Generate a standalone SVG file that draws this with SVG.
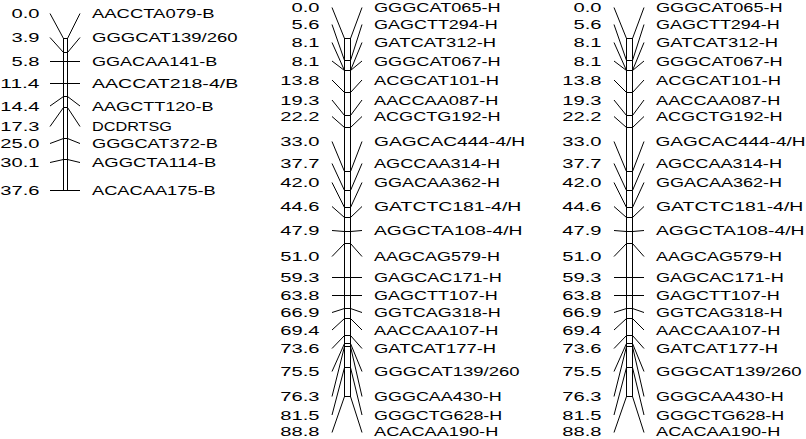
<svg xmlns="http://www.w3.org/2000/svg" width="806" height="439" viewBox="0 0 806 439">
<style>
text{font-family:"Liberation Sans","DejaVu Sans",sans-serif;font-size:13px;fill:#000}
.ln{fill:none;stroke:#000;stroke-width:1}
.bar{fill:#fff;stroke:#000;stroke-width:1}
</style>
<rect width="806" height="439" fill="#fff"/>
<g id="bars">
<rect class="bar" x="63.5" y="38.5" width="4" height="152"/>
<rect class="bar" x="344.5" y="38.5" width="6" height="358"/>
<rect class="bar" x="626.5" y="38.5" width="6" height="358"/>
</g>
<g id="connectors" class="ln">
<polyline points="50,13.5 63.5,38.5 67.5,38.5 80,13.5"/>
<polyline points="50,37.5 63.5,52.5 67.5,52.5 80,37.5"/>
<polyline points="50,61.5 63.5,61.5 67.5,61.5 80,61.5"/>
<polyline points="50,83.5 63.5,83.5 67.5,83.5 80,83.5"/>
<polyline points="50,106 63.5,96.5 67.5,96.5 80,106"/>
<polyline points="50,126.5 63.5,107.5 67.5,107.5 80,126.5"/>
<polyline points="50,143.5 63.5,138.5 67.5,138.5 80,143.5"/>
<polyline points="50,162.5 63.5,159.5 67.5,159.5 80,162.5"/>
<polyline points="50,190.5 63.5,190.5 67.5,190.5 80,190.5"/>

<polyline points="332,7.5 344.5,38.5 350.5,38.5 362,7.5"/>
<polyline points="332,24.5 344.5,60.5 350.5,60.5 362,24.5"/>
<polyline points="332,42.5 344.5,70.5 350.5,70.5 362,42.5"/>
<polyline points="332,61 344.5,70.5 350.5,70.5 362,61"/>
<polyline points="332,80 344.5,92.5 350.5,92.5 362,80"/>
<polyline points="332,100 344.5,115.5 350.5,115.5 362,100"/>
<polyline points="332,116.5 344.5,127.5 350.5,127.5 362,116.5"/>
<polyline points="332,141.5 344.5,171.5 350.5,171.5 362,141.5"/>
<polyline points="332,163.5 344.5,190.5 350.5,190.5 362,163.5"/>
<polyline points="332,182.5 344.5,207.5 350.5,207.5 362,182.5"/>
<polyline points="332,206.5 344.5,217.5 350.5,217.5 362,206.5"/>
<polyline points="332,230.5 344.5,231.5 350.5,231.5 362,230.5"/>
<polyline points="332,256.5 344.5,243.5 350.5,243.5 362,256.5"/>
<polyline points="332,277.5 344.5,277.5 350.5,277.5 362,277.5"/>
<polyline points="332,295.5 344.5,295.5 350.5,295.5 362,295.5"/>
<polyline points="332,312.5 344.5,308.5 350.5,308.5 362,312.5"/>
<polyline points="332,330 344.5,318.5 350.5,318.5 362,330"/>
<polyline points="332,348.5 344.5,335.5 350.5,335.5 362,348.5"/>
<polyline points="332,371.5 344.5,343.5 350.5,343.5 362,371.5"/>
<polyline points="332,396.5 344.5,346.5 350.5,346.5 362,396.5"/>
<polyline points="332,415 344.5,367.5 350.5,367.5 362,415"/>
<polyline points="332,432.5 344.5,396.5 350.5,396.5 362,432.5"/>

<polyline points="614,7.5 626.5,38.5 632.5,38.5 644,7.5"/>
<polyline points="614,24.5 626.5,60.5 632.5,60.5 644,24.5"/>
<polyline points="614,42.5 626.5,70.5 632.5,70.5 644,42.5"/>
<polyline points="614,61 626.5,70.5 632.5,70.5 644,61"/>
<polyline points="614,80 626.5,92.5 632.5,92.5 644,80"/>
<polyline points="614,100 626.5,115.5 632.5,115.5 644,100"/>
<polyline points="614,116.5 626.5,127.5 632.5,127.5 644,116.5"/>
<polyline points="614,141.5 626.5,171.5 632.5,171.5 644,141.5"/>
<polyline points="614,163.5 626.5,190.5 632.5,190.5 644,163.5"/>
<polyline points="614,182.5 626.5,207.5 632.5,207.5 644,182.5"/>
<polyline points="614,206.5 626.5,217.5 632.5,217.5 644,206.5"/>
<polyline points="614,230.5 626.5,231.5 632.5,231.5 644,230.5"/>
<polyline points="614,256.5 626.5,243.5 632.5,243.5 644,256.5"/>
<polyline points="614,277.5 626.5,277.5 632.5,277.5 644,277.5"/>
<polyline points="614,295.5 626.5,295.5 632.5,295.5 644,295.5"/>
<polyline points="614,312.5 626.5,308.5 632.5,308.5 644,312.5"/>
<polyline points="614,330 626.5,318.5 632.5,318.5 644,330"/>
<polyline points="614,348.5 626.5,335.5 632.5,335.5 644,348.5"/>
<polyline points="614,371.5 626.5,343.5 632.5,343.5 644,371.5"/>
<polyline points="614,396.5 626.5,346.5 632.5,346.5 644,396.5"/>
<polyline points="614,415 626.5,367.5 632.5,367.5 644,415"/>
<polyline points="614,432.5 626.5,396.5 632.5,396.5 644,432.5"/>
</g>

<g id="group1">
<g id="g1-m1"><text x="11.5" y="18" textLength="28" lengthAdjust="spacingAndGlyphs">0.0</text><text x="92" y="18" textLength="122.6" lengthAdjust="spacingAndGlyphs">AACCTA079-B</text></g>
<g id="g1-m2"><text x="11.5" y="42" textLength="28" lengthAdjust="spacingAndGlyphs">3.9</text><text x="92" y="42" textLength="145.6" lengthAdjust="spacingAndGlyphs">GGGCAT139/260</text></g>
<g id="g1-m3"><text x="11.5" y="65.5" textLength="28" lengthAdjust="spacingAndGlyphs">5.8</text><text x="92" y="65.5" textLength="125.4" lengthAdjust="spacingAndGlyphs">GGACAA141-B</text></g>
<g id="g1-m4"><text x="0.3" y="87.5" textLength="39.2" lengthAdjust="spacingAndGlyphs">11.4</text><text x="92" y="87.5" textLength="146.2" lengthAdjust="spacingAndGlyphs">AACCAT218-4/B</text></g>
<g id="g1-m5"><text x="0.3" y="110.5" textLength="39.2" lengthAdjust="spacingAndGlyphs">14.4</text><text x="92" y="110.5" textLength="121.5" lengthAdjust="spacingAndGlyphs">AAGCTT120-B</text></g>
<g id="g1-m6"><text x="0.3" y="131" textLength="39.2" lengthAdjust="spacingAndGlyphs">17.3</text><text x="92" y="131" textLength="80" lengthAdjust="spacingAndGlyphs">DCDRTSG</text></g>
<g id="g1-m7"><text x="0.3" y="148" textLength="39.2" lengthAdjust="spacingAndGlyphs">25.0</text><text x="92" y="148" textLength="126" lengthAdjust="spacingAndGlyphs">GGGCAT372-B</text></g>
<g id="g1-m8"><text x="0.3" y="167" textLength="39.2" lengthAdjust="spacingAndGlyphs">30.1</text><text x="92" y="167" textLength="124.3" lengthAdjust="spacingAndGlyphs">AGGCTA114-B</text></g>
<g id="g1-m9"><text x="0.3" y="195" textLength="39.2" lengthAdjust="spacingAndGlyphs">37.6</text><text x="92" y="195" textLength="123.8" lengthAdjust="spacingAndGlyphs">ACACAA175-B</text></g>
</g>

<g id="group2">
<g id="g2-m1"><text x="291.5" y="12" textLength="28" lengthAdjust="spacingAndGlyphs">0.0</text><text x="374" y="12" textLength="126.6" lengthAdjust="spacingAndGlyphs">GGGCAT065-H</text></g>
<g id="g2-m2"><text x="291.5" y="29" textLength="28" lengthAdjust="spacingAndGlyphs">5.6</text><text x="374" y="29" textLength="123.8" lengthAdjust="spacingAndGlyphs">GAGCTT294-H</text></g>
<g id="g2-m3"><text x="291.5" y="47" textLength="28" lengthAdjust="spacingAndGlyphs">8.1</text><text x="374" y="47" textLength="122.1" lengthAdjust="spacingAndGlyphs">GATCAT312-H</text></g>
<g id="g2-m4"><text x="291.5" y="65.5" textLength="28" lengthAdjust="spacingAndGlyphs">8.1</text><text x="374" y="65.5" textLength="126.6" lengthAdjust="spacingAndGlyphs">GGGCAT067-H</text></g>
<g id="g2-m5"><text x="280.3" y="84.5" textLength="39.2" lengthAdjust="spacingAndGlyphs">13.8</text><text x="374" y="84.5" textLength="124.9" lengthAdjust="spacingAndGlyphs">ACGCAT101-H</text></g>
<g id="g2-m6"><text x="280.3" y="104.5" textLength="39.2" lengthAdjust="spacingAndGlyphs">19.3</text><text x="374" y="104.5" textLength="124.3" lengthAdjust="spacingAndGlyphs">AACCAA087-H</text></g>
<g id="g2-m7"><text x="280.3" y="121" textLength="39.2" lengthAdjust="spacingAndGlyphs">22.2</text><text x="374" y="121" textLength="126.6" lengthAdjust="spacingAndGlyphs">ACGCTG192-H</text></g>
<g id="g2-m8"><text x="280.3" y="146" textLength="39.2" lengthAdjust="spacingAndGlyphs">33.0</text><text x="374" y="146" textLength="151.2" lengthAdjust="spacingAndGlyphs">GAGCAC444-4/H</text></g>
<g id="g2-m9"><text x="280.3" y="168" textLength="39.2" lengthAdjust="spacingAndGlyphs">37.7</text><text x="374" y="168" textLength="126" lengthAdjust="spacingAndGlyphs">AGCCAA314-H</text></g>
<g id="g2-m10"><text x="280.3" y="187" textLength="39.2" lengthAdjust="spacingAndGlyphs">42.0</text><text x="374" y="187" textLength="126" lengthAdjust="spacingAndGlyphs">GGACAA362-H</text></g>
<g id="g2-m11"><text x="280.3" y="211" textLength="39.2" lengthAdjust="spacingAndGlyphs">44.6</text><text x="374" y="211" textLength="147.3" lengthAdjust="spacingAndGlyphs">GATCTC181-4/H</text></g>
<g id="g2-m12"><text x="280.3" y="235" textLength="39.2" lengthAdjust="spacingAndGlyphs">47.9</text><text x="374" y="235" textLength="148.4" lengthAdjust="spacingAndGlyphs">AGGCTA108-4/H</text></g>
<g id="g2-m13"><text x="280.3" y="261" textLength="39.2" lengthAdjust="spacingAndGlyphs">51.0</text><text x="374" y="261" textLength="126" lengthAdjust="spacingAndGlyphs">AAGCAG579-H</text></g>
<g id="g2-m14"><text x="280.3" y="281.5" textLength="39.2" lengthAdjust="spacingAndGlyphs">59.3</text><text x="374" y="281.5" textLength="127.7" lengthAdjust="spacingAndGlyphs">GAGCAC171-H</text></g>
<g id="g2-m15"><text x="280.3" y="300" textLength="39.2" lengthAdjust="spacingAndGlyphs">63.8</text><text x="374" y="300" textLength="123.8" lengthAdjust="spacingAndGlyphs">GAGCTT107-H</text></g>
<g id="g2-m16"><text x="280.3" y="317" textLength="39.2" lengthAdjust="spacingAndGlyphs">66.9</text><text x="374" y="317" textLength="126.6" lengthAdjust="spacingAndGlyphs">GGTCAG318-H</text></g>
<g id="g2-m17"><text x="280.3" y="334.5" textLength="39.2" lengthAdjust="spacingAndGlyphs">69.4</text><text x="374" y="334.5" textLength="124.3" lengthAdjust="spacingAndGlyphs">AACCAA107-H</text></g>
<g id="g2-m18"><text x="280.3" y="353" textLength="39.2" lengthAdjust="spacingAndGlyphs">73.6</text><text x="374" y="353" textLength="122.1" lengthAdjust="spacingAndGlyphs">GATCAT177-H</text></g>
<g id="g2-m19"><text x="280.3" y="376" textLength="39.2" lengthAdjust="spacingAndGlyphs">75.5</text><text x="374" y="376" textLength="145.6" lengthAdjust="spacingAndGlyphs">GGGCAT139/260</text></g>
<g id="g2-m20"><text x="280.3" y="401" textLength="39.2" lengthAdjust="spacingAndGlyphs">76.3</text><text x="374" y="401" textLength="127.7" lengthAdjust="spacingAndGlyphs">GGGCAA430-H</text></g>
<g id="g2-m21"><text x="280.3" y="419.5" textLength="39.2" lengthAdjust="spacingAndGlyphs">81.5</text><text x="374" y="419.5" textLength="128.2" lengthAdjust="spacingAndGlyphs">GGGCTG628-H</text></g>
<g id="g2-m22"><text x="280.3" y="436" textLength="39.2" lengthAdjust="spacingAndGlyphs">88.8</text><text x="374" y="436" textLength="124.3" lengthAdjust="spacingAndGlyphs">ACACAA190-H</text></g>
</g>

<g id="group3">
<g id="g3-m1"><text x="573.5" y="12" textLength="28" lengthAdjust="spacingAndGlyphs">0.0</text><text x="656" y="12" textLength="126.6" lengthAdjust="spacingAndGlyphs">GGGCAT065-H</text></g>
<g id="g3-m2"><text x="573.5" y="29" textLength="28" lengthAdjust="spacingAndGlyphs">5.6</text><text x="656" y="29" textLength="123.8" lengthAdjust="spacingAndGlyphs">GAGCTT294-H</text></g>
<g id="g3-m3"><text x="573.5" y="47" textLength="28" lengthAdjust="spacingAndGlyphs">8.1</text><text x="656" y="47" textLength="122.1" lengthAdjust="spacingAndGlyphs">GATCAT312-H</text></g>
<g id="g3-m4"><text x="573.5" y="65.5" textLength="28" lengthAdjust="spacingAndGlyphs">8.1</text><text x="656" y="65.5" textLength="126.6" lengthAdjust="spacingAndGlyphs">GGGCAT067-H</text></g>
<g id="g3-m5"><text x="562.3" y="84.5" textLength="39.2" lengthAdjust="spacingAndGlyphs">13.8</text><text x="656" y="84.5" textLength="124.9" lengthAdjust="spacingAndGlyphs">ACGCAT101-H</text></g>
<g id="g3-m6"><text x="562.3" y="104.5" textLength="39.2" lengthAdjust="spacingAndGlyphs">19.3</text><text x="656" y="104.5" textLength="124.3" lengthAdjust="spacingAndGlyphs">AACCAA087-H</text></g>
<g id="g3-m7"><text x="562.3" y="121" textLength="39.2" lengthAdjust="spacingAndGlyphs">22.2</text><text x="656" y="121" textLength="126.6" lengthAdjust="spacingAndGlyphs">ACGCTG192-H</text></g>
<g id="g3-m8"><text x="562.3" y="146" textLength="39.2" lengthAdjust="spacingAndGlyphs">33.0</text><text x="655.5" y="146" textLength="150" lengthAdjust="spacingAndGlyphs">GAGCAC444-4/H</text></g>
<g id="g3-m9"><text x="562.3" y="168" textLength="39.2" lengthAdjust="spacingAndGlyphs">37.7</text><text x="656" y="168" textLength="126" lengthAdjust="spacingAndGlyphs">AGCCAA314-H</text></g>
<g id="g3-m10"><text x="562.3" y="187" textLength="39.2" lengthAdjust="spacingAndGlyphs">42.0</text><text x="656" y="187" textLength="126" lengthAdjust="spacingAndGlyphs">GGACAA362-H</text></g>
<g id="g3-m11"><text x="562.3" y="211" textLength="39.2" lengthAdjust="spacingAndGlyphs">44.6</text><text x="656" y="211" textLength="147.3" lengthAdjust="spacingAndGlyphs">GATCTC181-4/H</text></g>
<g id="g3-m12"><text x="562.3" y="235" textLength="39.2" lengthAdjust="spacingAndGlyphs">47.9</text><text x="656" y="235" textLength="148.4" lengthAdjust="spacingAndGlyphs">AGGCTA108-4/H</text></g>
<g id="g3-m13"><text x="562.3" y="261" textLength="39.2" lengthAdjust="spacingAndGlyphs">51.0</text><text x="656" y="261" textLength="126" lengthAdjust="spacingAndGlyphs">AAGCAG579-H</text></g>
<g id="g3-m14"><text x="562.3" y="281.5" textLength="39.2" lengthAdjust="spacingAndGlyphs">59.3</text><text x="656" y="281.5" textLength="127.7" lengthAdjust="spacingAndGlyphs">GAGCAC171-H</text></g>
<g id="g3-m15"><text x="562.3" y="300" textLength="39.2" lengthAdjust="spacingAndGlyphs">63.8</text><text x="656" y="300" textLength="123.8" lengthAdjust="spacingAndGlyphs">GAGCTT107-H</text></g>
<g id="g3-m16"><text x="562.3" y="317" textLength="39.2" lengthAdjust="spacingAndGlyphs">66.9</text><text x="656" y="317" textLength="126.6" lengthAdjust="spacingAndGlyphs">GGTCAG318-H</text></g>
<g id="g3-m17"><text x="562.3" y="334.5" textLength="39.2" lengthAdjust="spacingAndGlyphs">69.4</text><text x="656" y="334.5" textLength="124.3" lengthAdjust="spacingAndGlyphs">AACCAA107-H</text></g>
<g id="g3-m18"><text x="562.3" y="353" textLength="39.2" lengthAdjust="spacingAndGlyphs">73.6</text><text x="656" y="353" textLength="122.1" lengthAdjust="spacingAndGlyphs">GATCAT177-H</text></g>
<g id="g3-m19"><text x="562.3" y="376" textLength="39.2" lengthAdjust="spacingAndGlyphs">75.5</text><text x="656" y="376" textLength="145.6" lengthAdjust="spacingAndGlyphs">GGGCAT139/260</text></g>
<g id="g3-m20"><text x="562.3" y="401" textLength="39.2" lengthAdjust="spacingAndGlyphs">76.3</text><text x="656" y="401" textLength="127.7" lengthAdjust="spacingAndGlyphs">GGGCAA430-H</text></g>
<g id="g3-m21"><text x="562.3" y="419.5" textLength="39.2" lengthAdjust="spacingAndGlyphs">81.5</text><text x="656" y="419.5" textLength="128.2" lengthAdjust="spacingAndGlyphs">GGGCTG628-H</text></g>
<g id="g3-m22"><text x="562.3" y="436" textLength="39.2" lengthAdjust="spacingAndGlyphs">88.8</text><text x="656" y="436" textLength="124.3" lengthAdjust="spacingAndGlyphs">ACACAA190-H</text></g>
</g>
</svg>
